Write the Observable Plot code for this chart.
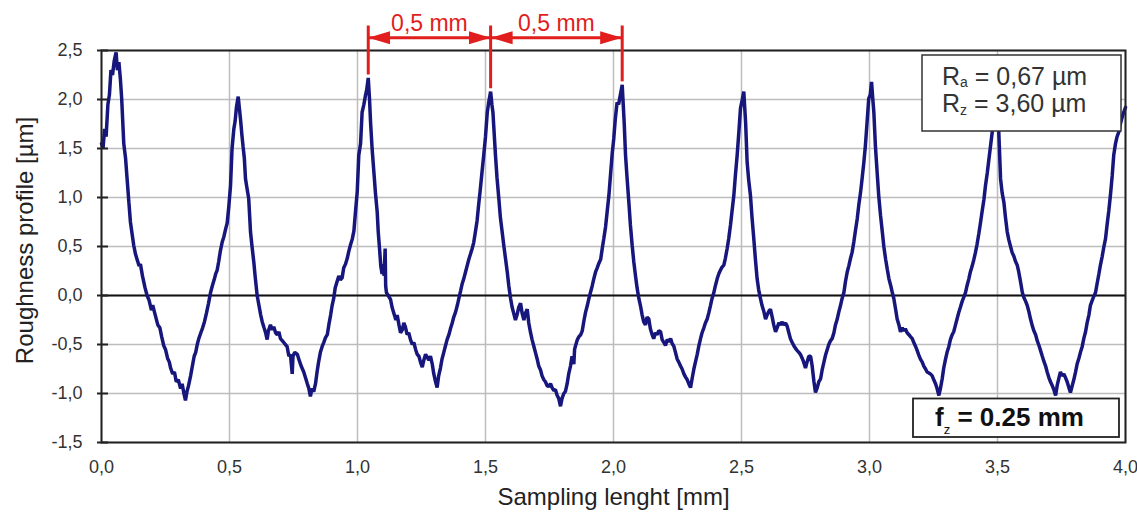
<!DOCTYPE html>
<html><head><meta charset="utf-8">
<script src="https://cdn.jsdelivr.net/npm/d3@7"></script>
<script src="https://cdn.jsdelivr.net/npm/@observablehq/plot@0.6"></script>
<style>html,body{margin:0;padding:0;background:#fff}#chart svg{display:block}</style>
</head><body><div id="chart"></div>
<script>
// ---------- data ----------
const xTicks = [0, 0.5, 1, 1.5, 2, 2.5, 3, 3.5, 4];
const yTicks = [-1.5, -1, -0.5, 0, 0.5, 1, 1.5, 2, 2.5];
const xTitle = "Sampling lenght [mm]";
const yTitle = "Roughness profile [µm]";
const spanEdges = [1.042, 1.520, 2.034];
const spanLabels = ["0,5 mm", "0,5 mm"];
const roughnessLines = [["R", "a", " = 0,67 µm"], ["R", "z", " = 3,60 µm"]];
const feedLabel = ["f", "z", " = 0.25 mm"];
const profile = [
[0.000,1.55],[0.006,1.50],[0.012,1.70],[0.018,1.62],[0.025,1.95],[0.031,2.05],[0.037,2.30],[0.043,2.25],[0.050,2.40],[0.057,2.48],[0.062,2.30],[0.068,2.38],[0.074,2.20],[0.079,2.00],[0.087,1.55],[0.094,1.40],[0.100,1.19],[0.107,0.95],[0.113,0.75],[0.120,0.62],[0.126,0.51],[0.133,0.42],[0.140,0.36],[0.147,0.30],[0.152,0.32],[0.160,0.20],[0.170,0.08],[0.178,0.00],[0.186,-0.05],[0.195,-0.15],[0.200,-0.10],[0.210,-0.20],[0.220,-0.30],[0.228,-0.33],[0.235,-0.42],[0.243,-0.51],[0.250,-0.55],[0.258,-0.64],[0.265,-0.68],[0.270,-0.74],[0.278,-0.80],[0.285,-0.78],[0.292,-0.88],[0.300,-0.86],[0.309,-0.95],[0.315,-0.90],[0.322,-1.00],[0.328,-1.07],[0.334,-0.98],[0.340,-0.92],[0.348,-0.82],[0.355,-0.72],[0.362,-0.62],[0.368,-0.58],[0.374,-0.50],[0.380,-0.44],[0.388,-0.38],[0.395,-0.33],[0.402,-0.27],[0.410,-0.18],[0.418,-0.08],[0.426,0.03],[0.433,0.10],[0.440,0.16],[0.446,0.22],[0.452,0.26],[0.458,0.35],[0.464,0.45],[0.471,0.54],[0.478,0.60],[0.485,0.68],[0.491,0.74],[0.497,0.90],[0.504,1.12],[0.510,1.50],[0.517,1.70],[0.522,1.78],[0.527,1.92],[0.534,2.03],[0.539,1.90],[0.543,1.80],[0.548,1.65],[0.553,1.52],[0.558,1.40],[0.5625,1.19],[0.568,1.10],[0.575,0.99],[0.579,0.80],[0.582,0.65],[0.588,0.50],[0.595,0.34],[0.600,0.20],[0.608,0.00],[0.615,-0.10],[0.622,-0.20],[0.628,-0.27],[0.635,-0.33],[0.641,-0.38],[0.647,-0.45],[0.652,-0.36],[0.660,-0.30],[0.667,-0.35],[0.673,-0.32],[0.680,-0.38],[0.687,-0.40],[0.693,-0.37],[0.699,-0.44],[0.706,-0.46],[0.712,-0.48],[0.718,-0.50],[0.725,-0.52],[0.732,-0.62],[0.738,-0.60],[0.745,-0.80],[0.748,-0.62],[0.755,-0.58],[0.765,-0.60],[0.772,-0.66],[0.780,-0.72],[0.790,-0.78],[0.797,-0.84],[0.804,-0.90],[0.810,-0.95],[0.816,-1.03],[0.822,-0.95],[0.829,-0.98],[0.836,-0.90],[0.842,-0.78],[0.848,-0.68],[0.855,-0.58],[0.862,-0.52],[0.868,-0.48],[0.875,-0.43],[0.882,-0.40],[0.888,-0.30],[0.895,-0.20],[0.901,-0.10],[0.907,-0.03],[0.913,0.08],[0.920,0.14],[0.927,0.20],[0.933,0.16],[0.940,0.18],[0.946,0.28],[0.953,0.32],[0.960,0.38],[0.966,0.45],[0.973,0.52],[0.980,0.58],[0.986,0.66],[0.992,0.85],[0.999,1.06],[1.005,1.43],[1.012,1.55],[1.018,1.87],[1.025,1.95],[1.031,2.04],[1.036,2.10],[1.042,2.22],[1.047,2.00],[1.051,1.77],[1.057,1.50],[1.064,1.26],[1.070,1.05],[1.077,0.85],[1.081,0.65],[1.086,0.48],[1.091,0.30],[1.096,0.22],[1.100,0.32],[1.104,0.20],[1.108,0.48],[1.110,0.10],[1.113,0.03],[1.120,0.00],[1.129,-0.04],[1.135,-0.12],[1.142,-0.18],[1.150,-0.25],[1.155,-0.20],[1.162,-0.30],[1.168,-0.38],[1.175,-0.35],[1.181,-0.28],[1.187,-0.32],[1.194,-0.40],[1.200,-0.38],[1.207,-0.45],[1.214,-0.50],[1.220,-0.48],[1.227,-0.55],[1.233,-0.60],[1.240,-0.62],[1.246,-0.68],[1.253,-0.73],[1.259,-0.66],[1.266,-0.60],[1.272,-0.63],[1.279,-0.66],[1.285,-0.62],[1.292,-0.70],[1.298,-0.80],[1.305,-0.88],[1.311,-0.94],[1.317,-0.82],[1.324,-0.74],[1.330,-0.65],[1.337,-0.58],[1.344,-0.51],[1.350,-0.45],[1.357,-0.40],[1.363,-0.34],[1.370,-0.28],[1.376,-0.22],[1.383,-0.17],[1.390,-0.10],[1.396,-0.03],[1.403,0.05],[1.409,0.12],[1.415,0.17],[1.422,0.24],[1.428,0.30],[1.435,0.37],[1.441,0.42],[1.448,0.48],[1.454,0.54],[1.460,0.64],[1.467,0.76],[1.473,0.92],[1.480,1.09],[1.486,1.25],[1.493,1.43],[1.500,1.62],[1.507,1.87],[1.513,1.98],[1.520,2.08],[1.525,1.95],[1.529,1.87],[1.534,1.65],[1.539,1.43],[1.545,1.20],[1.552,0.99],[1.558,0.80],[1.565,0.65],[1.572,0.50],[1.578,0.38],[1.585,0.24],[1.591,0.10],[1.598,-0.03],[1.604,-0.12],[1.610,-0.18],[1.617,-0.25],[1.623,-0.20],[1.630,-0.12],[1.637,-0.08],[1.643,-0.18],[1.650,-0.25],[1.656,-0.18],[1.663,-0.14],[1.669,-0.28],[1.676,-0.38],[1.682,-0.45],[1.689,-0.52],[1.695,-0.58],[1.702,-0.65],[1.708,-0.72],[1.715,-0.76],[1.721,-0.82],[1.728,-0.86],[1.734,-0.88],[1.741,-0.92],[1.747,-0.93],[1.754,-0.90],[1.760,-0.94],[1.767,-0.97],[1.773,-0.96],[1.780,-1.02],[1.786,-1.05],[1.793,-1.13],[1.799,-1.05],[1.806,-1.00],[1.812,-0.98],[1.819,-0.90],[1.825,-0.80],[1.832,-0.72],[1.838,-0.62],[1.845,-0.70],[1.848,-0.55],[1.852,-0.51],[1.859,-0.45],[1.865,-0.42],[1.872,-0.40],[1.878,-0.36],[1.885,-0.25],[1.891,-0.17],[1.898,-0.10],[1.904,-0.03],[1.910,0.03],[1.917,0.10],[1.923,0.17],[1.930,0.24],[1.936,0.28],[1.943,0.33],[1.950,0.37],[1.956,0.48],[1.962,0.58],[1.969,0.70],[1.975,0.85],[1.982,1.02],[1.988,1.22],[1.995,1.45],[2.001,1.60],[2.007,1.80],[2.014,1.97],[2.020,1.95],[2.027,2.05],[2.034,2.15],[2.038,1.95],[2.042,1.75],[2.047,1.43],[2.053,1.20],[2.060,0.95],[2.066,0.72],[2.073,0.51],[2.079,0.35],[2.086,0.20],[2.092,0.08],[2.099,-0.03],[2.105,-0.10],[2.112,-0.20],[2.118,-0.27],[2.125,-0.30],[2.131,-0.22],[2.138,-0.24],[2.144,-0.34],[2.151,-0.40],[2.157,-0.44],[2.164,-0.38],[2.170,-0.40],[2.177,-0.36],[2.184,-0.37],[2.190,-0.45],[2.197,-0.48],[2.203,-0.51],[2.210,-0.45],[2.216,-0.47],[2.223,-0.44],[2.229,-0.49],[2.236,-0.52],[2.242,-0.58],[2.249,-0.65],[2.255,-0.68],[2.262,-0.72],[2.268,-0.75],[2.275,-0.80],[2.281,-0.83],[2.288,-0.86],[2.294,-0.90],[2.301,-0.94],[2.307,-0.85],[2.314,-0.75],[2.320,-0.68],[2.327,-0.60],[2.333,-0.52],[2.340,-0.44],[2.346,-0.38],[2.353,-0.33],[2.359,-0.28],[2.366,-0.24],[2.372,-0.18],[2.379,-0.10],[2.385,-0.03],[2.392,0.03],[2.398,0.10],[2.405,0.17],[2.411,0.22],[2.418,0.26],[2.424,0.29],[2.431,0.31],[2.437,0.38],[2.444,0.48],[2.450,0.58],[2.457,0.72],[2.463,0.86],[2.470,1.02],[2.476,1.22],[2.483,1.43],[2.490,1.68],[2.496,1.91],[2.503,2.00],[2.509,2.08],[2.513,1.90],[2.516,1.77],[2.522,1.36],[2.528,1.18],[2.535,1.02],[2.541,0.80],[2.548,0.58],[2.554,0.38],[2.561,0.17],[2.567,0.06],[2.574,-0.03],[2.580,-0.10],[2.587,-0.16],[2.594,-0.24],[2.600,-0.20],[2.607,-0.16],[2.613,-0.14],[2.620,-0.22],[2.626,-0.30],[2.633,-0.37],[2.639,-0.33],[2.646,-0.28],[2.652,-0.30],[2.659,-0.27],[2.665,-0.30],[2.672,-0.28],[2.678,-0.31],[2.685,-0.38],[2.691,-0.44],[2.698,-0.48],[2.704,-0.51],[2.711,-0.54],[2.717,-0.56],[2.724,-0.58],[2.730,-0.60],[2.737,-0.64],[2.743,-0.68],[2.750,-0.74],[2.756,-0.68],[2.763,-0.62],[2.770,-0.62],[2.776,-0.72],[2.783,-0.88],[2.789,-0.99],[2.796,-0.94],[2.802,-0.88],[2.809,-0.85],[2.815,-0.76],[2.822,-0.68],[2.828,-0.61],[2.835,-0.55],[2.841,-0.50],[2.848,-0.46],[2.854,-0.44],[2.861,-0.38],[2.867,-0.30],[2.874,-0.24],[2.880,-0.17],[2.887,-0.10],[2.893,-0.03],[2.900,0.03],[2.906,0.14],[2.913,0.24],[2.919,0.30],[2.926,0.38],[2.932,0.44],[2.939,0.55],[2.945,0.66],[2.952,0.78],[2.958,0.92],[2.965,1.05],[2.971,1.19],[2.978,1.36],[2.984,1.53],[2.990,1.75],[2.997,2.01],[3.003,2.05],[3.008,2.18],[3.013,2.00],[3.017,1.87],[3.023,1.53],[3.030,1.25],[3.036,1.02],[3.043,0.82],[3.050,0.65],[3.056,0.50],[3.063,0.37],[3.070,0.26],[3.076,0.17],[3.083,0.10],[3.089,0.03],[3.095,-0.03],[3.102,-0.14],[3.108,-0.24],[3.115,-0.30],[3.121,-0.37],[3.128,-0.33],[3.134,-0.36],[3.140,-0.34],[3.147,-0.38],[3.154,-0.40],[3.160,-0.42],[3.167,-0.44],[3.173,-0.48],[3.180,-0.52],[3.186,-0.56],[3.193,-0.61],[3.199,-0.65],[3.206,-0.68],[3.212,-0.72],[3.219,-0.75],[3.225,-0.78],[3.232,-0.79],[3.238,-0.80],[3.245,-0.82],[3.251,-0.86],[3.258,-0.90],[3.264,-0.95],[3.271,-1.02],[3.277,-0.95],[3.284,-0.85],[3.290,-0.74],[3.297,-0.65],[3.303,-0.58],[3.310,-0.52],[3.316,-0.45],[3.323,-0.40],[3.329,-0.37],[3.336,-0.30],[3.342,-0.24],[3.349,-0.17],[3.355,-0.12],[3.362,-0.06],[3.368,-0.02],[3.375,0.03],[3.381,0.10],[3.388,0.17],[3.394,0.24],[3.401,0.30],[3.407,0.36],[3.414,0.44],[3.420,0.52],[3.427,0.63],[3.434,0.75],[3.440,0.86],[3.447,0.98],[3.453,1.12],[3.460,1.25],[3.466,1.38],[3.473,1.53],[3.480,1.68],[3.487,1.82],[3.493,1.95],[3.500,2.05],[3.503,1.85],[3.505,1.67],[3.512,1.19],[3.518,1.05],[3.525,0.95],[3.531,0.80],[3.538,0.65],[3.544,0.57],[3.551,0.50],[3.557,0.44],[3.564,0.40],[3.570,0.35],[3.577,0.31],[3.583,0.24],[3.590,0.14],[3.597,0.03],[3.603,-0.02],[3.610,-0.06],[3.616,-0.10],[3.623,-0.17],[3.629,-0.24],[3.636,-0.31],[3.642,-0.36],[3.649,-0.40],[3.655,-0.46],[3.662,-0.51],[3.668,-0.56],[3.675,-0.62],[3.681,-0.67],[3.688,-0.72],[3.694,-0.78],[3.701,-0.84],[3.707,-0.88],[3.714,-0.92],[3.720,-0.96],[3.727,-1.02],[3.733,-0.92],[3.740,-0.84],[3.746,-0.78],[3.753,-0.82],[3.759,-0.80],[3.766,-0.84],[3.772,-0.88],[3.779,-0.94],[3.785,-0.99],[3.792,-0.92],[3.798,-0.86],[3.805,-0.78],[3.811,-0.70],[3.818,-0.64],[3.824,-0.58],[3.831,-0.52],[3.837,-0.44],[3.844,-0.37],[3.850,-0.28],[3.857,-0.20],[3.863,-0.10],[3.870,-0.05],[3.876,-0.01],[3.883,0.03],[3.889,0.12],[3.896,0.22],[3.902,0.31],[3.909,0.40],[3.915,0.49],[3.922,0.58],[3.928,0.72],[3.935,0.87],[3.941,1.02],[3.948,1.22],[3.954,1.43],[3.961,1.55],[3.967,1.62],[3.974,1.67],[3.980,1.75],[3.987,1.82],[3.993,1.87],[4.000,1.92]
];

// ---------- layout / style ----------
const W = 1137, H = 517;
const M = {left: 101, right: 12, top: 50, bottom: 75};
const FONT = '"Liberation Sans", Arial, sans-serif';
const RED = "#e11d1d";
const NAVY = "#16167c";
const ANNOT_Y = 2.63;   // arrow level (above frame)
const ANNOT_TOP = 2.75; // top of red markers
const fmt = d => d.toFixed(1).replace(".", ",");

const spans = spanLabels.map((label, i) => ({a: spanEdges[i], b: spanEdges[i + 1], label, mid: (spanEdges[i] + spanEdges[i + 1]) / 2}));
const peakAt = x => d3.max(profile.filter(d => Math.abs(d[0] - x) < 0.01), d => d[1]);
const markers = spanEdges.map(x => ({x, top: peakAt(x) + 0.03}));

const chart = Plot.plot({
  width: W, height: H,
  marginLeft: M.left, marginRight: M.right, marginTop: M.top, marginBottom: M.bottom,
  x: {domain: [0, 4]},
  y: {domain: [-1.5, 2.5]},
  style: {fontFamily: FONT, fontSize: "18px", background: "#fff", color: "#222"},
  marks: [
    Plot.ruleX(xTicks, {stroke: "#bdbdbd", strokeWidth: 1.5}),
    Plot.ruleY(yTicks, {stroke: "#bdbdbd", strokeWidth: 1.5}),
    Plot.ruleY([0], {stroke: "#111", strokeWidth: 2}),
    Plot.line(profile, {x: d => d[0], y: d => d[1], stroke: NAVY, strokeWidth: 3.5, strokeLinejoin: "miter"}),
    Plot.frame({stroke: "#222", strokeWidth: 2}),
    Plot.axisX({ticks: xTicks, tickSize: 0, tickPadding: 18, tickFormat: fmt, label: null, fill: "#333", fontSize: 18}),
    Plot.axisY({ticks: yTicks, tickSize: 4, tickPadding: 15, tickFormat: fmt, label: null, fill: "#333", stroke: "#222", strokeWidth: 2, fontSize: 18}),
    Plot.axisY({ticks: yTicks, tickSize: -7, fill: "none", label: null, stroke: "#222", strokeWidth: 2}),
    Plot.text([xTitle], {frameAnchor: "bottom", textAnchor: "middle", dy: 62, fontSize: 24, fill: "#222"}),
    Plot.text([yTitle], {frameAnchor: "left", textAnchor: "middle", dx: -76, dy: -6, rotate: -90, fontSize: 24, fill: "#222"}),
    // red spacing annotation
    Plot.ruleX(markers, {x: "x", y1: "top", y2: ANNOT_TOP, stroke: RED, strokeWidth: 3}),
    Plot.link(spans, {x1: "a", x2: "b", y1: ANNOT_Y, y2: ANNOT_Y, stroke: RED, strokeWidth: 3, markerStart: "arrow", markerEnd: "arrow"}),
    Plot.text(spans, {x: "mid", y: ANNOT_Y, text: "label", dy: -14, fontSize: 23, fill: RED})
  ]
});
document.getElementById("chart").appendChild(chart);

// ---------- post-processing: filled arrow heads, stat boxes ----------
const svg = d3.select(chart);
svg.selectAll("marker").each(function () {
  const m = d3.select(this);
  m.attr("viewBox", "-22 -7 22 14").attr("markerWidth", 22).attr("markerHeight", 14)
   .attr("markerUnits", "userSpaceOnUse").attr("orient", "auto-start-reverse")
   .attr("fill", RED).attr("stroke", "none");
  m.selectAll("*").remove();
  m.append("path").attr("d", "M-22,-6.5L0,0L-22,6.5Z").attr("fill", RED).attr("stroke", "none");
});

const fr = {left: M.left, right: W - M.right, top: M.top, bottom: H - M.bottom};
const g = svg.append("g").attr("font-family", FONT).attr("text-anchor", "start");
// Ra / Rz box
g.append("rect").attr("x", fr.right - 203).attr("y", fr.top + 5).attr("width", 199).attr("height", 76)
  .attr("fill", "#fff").attr("stroke", "#333").attr("stroke-width", 1.5);
roughnessLines.forEach((ln, i) => {
  const t = g.append("text").attr("x", fr.right - 183).attr("y", fr.top + 35 + i * 27)
    .attr("text-anchor", "start").attr("font-size", 25).attr("fill", "#333");
  t.append("tspan").text(ln[0]);
  t.append("tspan").attr("font-size", 14).attr("dy", 2 + i).text(ln[1]);
  t.append("tspan").attr("dy", -(2 + i)).text(ln[2]);
});
// fz box
g.append("rect").attr("x", fr.right - 212).attr("y", fr.bottom - 43.5).attr("width", 206).attr("height", 38.5)
  .attr("fill", "#fff").attr("stroke", "#222").attr("stroke-width", 1.8);
{
  const t = g.append("text").attr("x", fr.right - 190).attr("y", fr.bottom - 16)
    .attr("text-anchor", "start").attr("font-size", 26).attr("font-weight", "bold").attr("fill", "#111");
  t.append("tspan").text(feedLabel[0]);
  t.append("tspan").attr("font-size", 13).attr("font-weight", "normal").attr("dy", 8).text(feedLabel[1]);
  t.append("tspan").attr("dy", -8).text(feedLabel[2]);
}
</script>
</body></html>
